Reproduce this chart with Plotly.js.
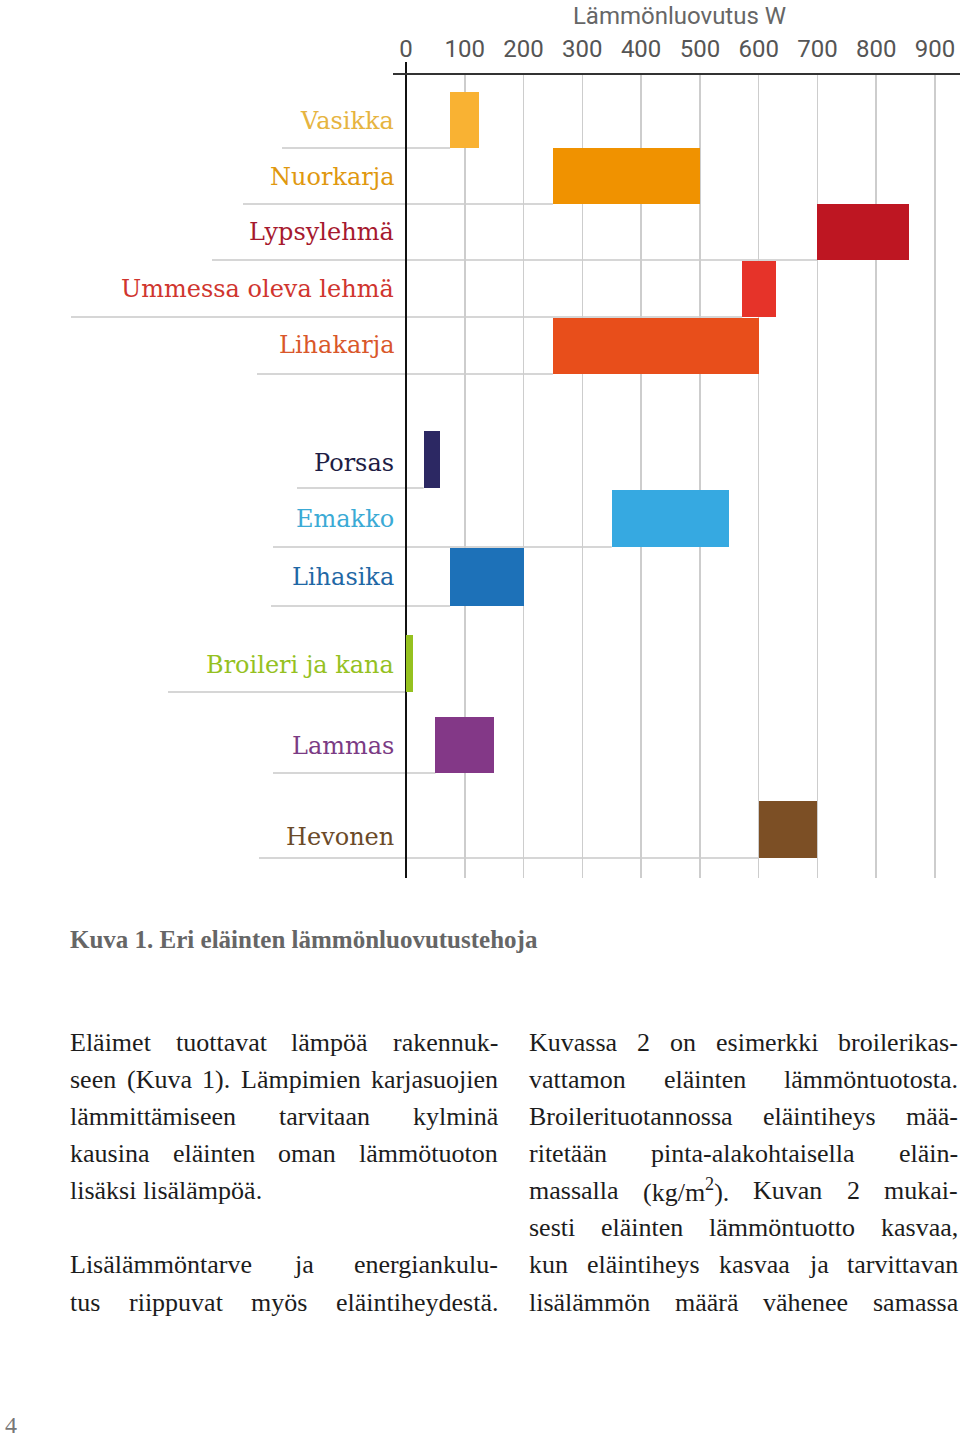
<!DOCTYPE html>
<html><head><meta charset="utf-8">
<script src="https://cdn.plot.ly/plotly-3.0.1.min.js"></script>
<style>html,body{margin:0;padding:0;background:#fff}#chart{width:960px;height:1440px}</style>
</head><body><div id="chart"></div>
<script>
// ---------- data ----------
const animals = ['Vasikka','Nuorkarja','Lypsylehmä','Ummessa oleva lehmä','Lihakarja','Porsas','Emakko','Lihasika','Broileri ja kana','Lammas','Hevonen'];
const heatMin = [75, 250, 700, 572, 250, 30, 350, 75, 0, 50, 600];
const heatMax = [125, 500, 855, 630, 600, 57, 550, 200, 12, 150, 700];
const xTicks = [0, 100, 200, 300, 400, 500, 600, 700, 800, 900];
const axisTitle = 'Lämmönluovutus W';
const caption = 'Kuva 1. Eri eläinten lämmönluovutustehoja';
const pageNumber = '4';
const col1Lines = [
  'Eläimet tuottavat lämpöä rakennuk-',
  'seen (Kuva 1). Lämpimien karjasuojien',
  'lämmittämiseen tarvitaan kylminä',
  'kausina eläinten oman lämmötuoton',
  'lisäksi lisälämpöä.',
  '',
  'Lisälämmöntarve ja energiankulu-',
  'tus riippuvat myös eläintiheydestä.'
];
const col1Justify = [true, true, true, true, false, false, true, true];
const col2Lines = [
  'Kuvassa 2 on esimerkki broilerikas-',
  'vattamon eläinten lämmöntuotosta.',
  'Broilerituotannossa eläintiheys mää-',
  'ritetään pinta-alakohtaisella eläin-',
  'massalla (kg/m<sup>2</sup>). Kuvan 2 mukai-',
  'sesti eläinten lämmöntuotto kasvaa,',
  'kun eläintiheys kasvaa ja tarvittavan',
  'lisälämmön määrä vähenee samassa'
];
const col2Justify = [true, true, true, true, true, true, true, true];

// ---------- styles ----------
const barColors = ['#F9B233','#F09200','#BE1622','#E63329','#E84E1B','#2C2863','#36A9E1','#1D71B8','#95C11F','#833887','#7C4F25'];
const labelColors = ['#E6B440','#E0980F','#A6192E','#D0352E','#D9572A','#1E1D45','#3BAAD5','#1F68A5','#95C11F','#7B3B84','#6B4A28'];

// ---------- layout geometry (pixels) ----------
const W = 960, H = 1440;
const L = 406, R = 960, T = 74, B = 878;
const pxPer100 = 58.78;
const xMax = (R - L) / pxPer100 * 100;
const rowTop    = [92, 148, 204, 261, 318, 431, 490, 548, 635, 717, 801];
const rowBottom = [148, 204, 260, 317, 374, 488, 547, 606, 692, 773, 858];
const labelY    = [121, 177, 232, 289, 345, 463, 519, 577, 665, 746, 837];
const lineStartX = [282, 243, 212, 71, 257, 297, 273, 271, 168, 273, 259];

const xp = X => (X - L) / (R - L);
const yp = Y => (B - Y) / (B - T);

// ---------- trace ----------
const bars = {
  type: 'bar', orientation: 'h',
  base: heatMin,
  x: heatMax.map((v, i) => v - heatMin[i]),
  y: rowTop.map((t, i) => (t + rowBottom[i]) / 2),
  width: rowTop.map((t, i) => rowBottom[i] - t),
  marker: { color: barColors, line: { width: 0 } },
  hoverinfo: 'skip', showlegend: false
};

// ---------- shapes ----------
const shapes = [];
animals.forEach((a, i) => {
  shapes.push({ type: 'line', layer: 'below', xref: 'paper', yref: 'paper',
    x0: xp(lineStartX[i]), x1: heatMin[i] / xMax, y0: yp(rowBottom[i]), y1: yp(rowBottom[i]),
    line: { color: '#c9c9c9', width: 1.5 } });
});
shapes.push({ type: 'line', layer: 'below', xref: 'paper', yref: 'paper',
  x0: 0, x1: 0, y0: 0, y1: yp(62), line: { color: '#111', width: 2 } });
shapes.push({ type: 'line', layer: 'above', xref: 'paper', yref: 'paper',
  x0: xp(393), x1: 1, y0: 1, y1: 1, line: { color: '#333', width: 2 } });

// ---------- annotations ----------
const annotations = [];
animals.forEach((a, i) => {
  annotations.push({ text: a, xref: 'paper', yref: 'paper', x: xp(396), y: yp(labelY[i]),
    xanchor: 'right', yanchor: 'middle', showarrow: false,
    font: { family: 'DejaVu Serif', size: 24, color: labelColors[i] } });
});
annotations.push({ text: caption, xref: 'paper', yref: 'paper', x: xp(68), y: yp(939),
  xanchor: 'left', yanchor: 'middle', showarrow: false,
  font: { family: 'Liberation Serif', size: 25, color: '#666', weight: 'bold' } });
annotations.push({ text: pageNumber, xref: 'paper', yref: 'paper', x: xp(3), y: yp(1425),
  xanchor: 'left', yanchor: 'middle', showarrow: false,
  font: { family: 'Liberation Serif', size: 24, color: '#777' } });

// body text, justified word by word
const bodyFont = 26, bodyFamily = 'Liberation Serif';
const cv = document.createElement('canvas').getContext('2d');
cv.font = bodyFont + "px '" + bodyFamily + "'";
const plain = s => s.replace(/<sup>2<\/sup>/g, '²');
function addColumn(lines, just, x0, width) {
  lines.forEach((ln, k) => {
    if (!ln) return;
    const y = 1042 + k * 37.15;
    const words = ln.split(' ');
    const ws = words.map(w => cv.measureText(plain(w)).width);
    const total = ws.reduce((a, b) => a + b, 0);
    const gap = (just[k] && words.length > 1) ? (width - total) / (words.length - 1) : cv.measureText(' ').width;
    let x = x0;
    words.forEach((w, j) => {
      annotations.push({ text: w, xref: 'paper', yref: 'paper', x: xp(x - 1), y: yp(y),
        xanchor: 'left', yanchor: 'middle', showarrow: false, borderpad: 0,
        font: { family: bodyFamily, size: bodyFont, color: '#1c1c1c' } });
      x += ws[j] + gap;
    });
  });
}
addColumn(col1Lines, col1Justify, 70, 428);
addColumn(col2Lines, col2Justify, 529, 429);

const layout = {
  width: W, height: H,
  margin: { l: L, r: W - R, t: T, b: H - B, pad: 0 },
  paper_bgcolor: '#fff', plot_bgcolor: '#fff',
  title: { text: axisTitle, xref: 'container', yref: 'container', x: 679.5 / W, xanchor: 'center',
    y: 1 - 16 / H, yanchor: 'middle',
    font: { family: 'Roboto', size: 24, color: '#666' } },
  xaxis: { side: 'top', range: [0, xMax], tickvals: xTicks, ticks: '', showline: false,
    zeroline: false, showgrid: true, gridcolor: '#cdcdcd', gridwidth: 1.5,
    tickfont: { family: 'Roboto', size: 24, color: '#555' }, ticklabelstandoff: 11, fixedrange: true },
  yaxis: { range: [B, T], visible: false, showgrid: false, zeroline: false, fixedrange: true },
  bargap: 0,
  shapes: shapes, annotations: annotations, showlegend: false
};
Plotly.newPlot('chart', [bars], layout, { displayModeBar: false, staticPlot: true });
</script></body></html>
